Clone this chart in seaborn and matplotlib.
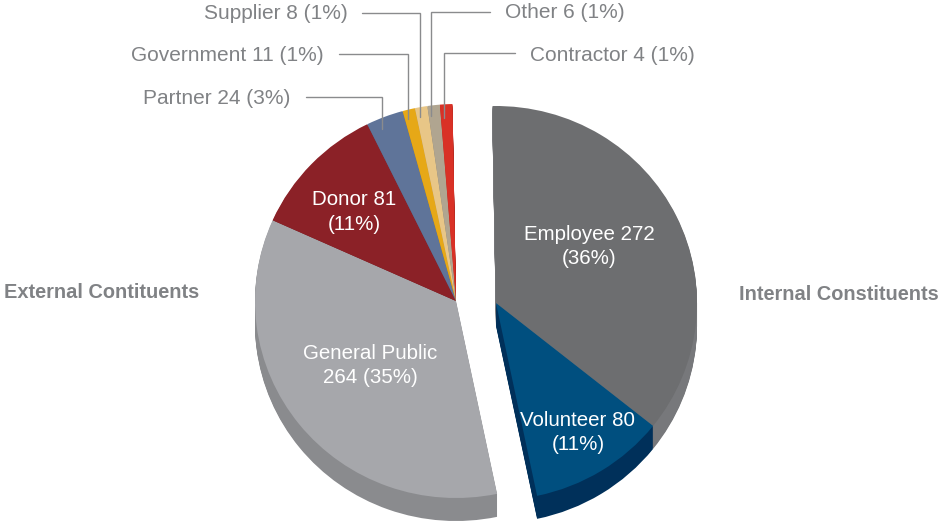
import matplotlib
matplotlib.use("Agg")
import matplotlib.pyplot as plt
import seaborn as sns

internal_names = ["Employee", "Volunteer"]
internal_counts = [272, 80]
internal_percent = [36, 11]
external_names = ["General Public", "Donor", "Partner", "Government", "Supplier", "Other", "Contractor"]
external_counts = [264, 81, 24, 11, 8, 6, 4]
external_percent = [35, 11, 3, 1, 1, 1, 1]
internal_colors = ["#6d6e70", "#004f7f"]
internal_sides = ["#77787b", "#00305a"]
external_colors = ["#a6a7ab", "#8b2127", "#5f7499", "#e6a817", "#e8c687", "#b0a590", "#d93126"]
external_sides = ["#8a8b8e", "#6d1a1f", "#4a5a78", "#b58412", "#b89c6a", "#8a8170", "#a8261d"]

sns.set_theme(style="white")
plt.rcParams["font.family"] = ["Liberation Sans", "DejaVu Sans"]

W, H = 940, 523
RX, RY = 201, 197
K = RX / RY
DEPTH = 23
START = 91
total = sum(internal_percent) + sum(external_percent)

fig = plt.figure(figsize=(W / 100, H / 100), dpi=100, facecolor="white")
ax = fig.add_axes([0, 0, 1, 1])


def Y(py):
    return (H - py) * K


def draw_group(values, colors, sides, cx, cy, start):
    fr = [v / total for v in values]
    for d in range(DEPTH, 0, -1):
        ax.pie(fr, colors=sides, startangle=start, counterclock=False, normalize=False,
               center=(cx, Y(cy + d)), radius=RX, wedgeprops=dict(linewidth=0))
    ax.pie(fr, colors=colors, startangle=start, counterclock=False, normalize=False,
           center=(cx, Y(cy)), radius=RX, wedgeprops=dict(linewidth=0))


# the external slices begin where the internal slices end
internal_sweep = 360 * sum(internal_percent) / total
draw_group(external_percent, external_colors, external_sides, 456, 301, START - internal_sweep)
draw_group(internal_percent, internal_colors, internal_sides, 496, 303, START)

ax.set_xlim(0, W)
ax.set_ylim(0, H * K)
ax.set_aspect("auto")
ax.axis("off")

GREY = "#808285"


def label(x, y, s, color=GREY, ha="center", fs=15.05, **kw):
    ax.text(x, Y(y), s, color=color, ha=ha, va="center", fontsize=fs, linespacing=1.38, zorder=6, **kw)


def leader(xs, ys):
    ax.plot(xs, [Y(v) for v in ys], color="#8a8b8d", lw=1.0, solid_joinstyle="miter", zorder=5)


def text_for(names, counts, percent, name):
    i = names.index(name)
    return name, counts[i], percent[i]


def inner(x, y, names, counts, percent, name, wrap_after_count=False):
    n, c, p = text_for(names, counts, percent, name)
    s = f"{n}\n{c} ({p}%)" if wrap_after_count else f"{n} {c}\n({p}%)"
    label(x, y, s, color="white", fs=14.8)


def outer(x, y, name):
    n, c, p = text_for(external_names, external_counts, external_percent, name)
    label(x, y, f"{n} {c} ({p}%)", ha="left")


inner(589, 246.5, internal_names, internal_counts, internal_percent, "Employee")
inner(578, 432.5, internal_names, internal_counts, internal_percent, "Volunteer")
inner(370, 365.5, external_names, external_counts, external_percent, "General Public", True)
inner(354, 212, external_names, external_counts, external_percent, "Donor")

outer(204, 14, "Supplier")
outer(131, 56, "Government")
outer(143, 98, "Partner")
outer(505, 13, "Other")
outer(530, 56, "Contractor")

label(4, 292.5, "External Contituents", ha="left", fontweight="bold", fs=14.4)
label(739, 294.5, "Internal Constituents", ha="left", fontweight="bold", fs=14.4)

leader([306, 382, 382], [97, 97, 129])
leader([339, 408, 408], [54, 54, 119])
leader([362, 420, 420], [13, 13, 117])
leader([490, 431, 431], [12, 12, 116])
leader([515, 444, 444], [53, 53, 118])

fig.savefig("out.png", dpi=100)
